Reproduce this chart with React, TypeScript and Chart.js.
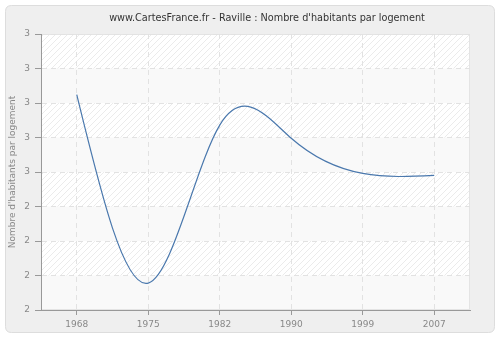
import React, { useEffect, useRef } from "react";
import { Chart, registerables } from "chart.js";

Chart.register(...registerables);

const chartTitle = "www.CartesFrance.fr - Raville : Nombre d'habitants par logement";
const yAxisTitle = "Nombre d'habitants par logement";
const years = ["1968", "1975", "1982", "1990", "1999", "2007"];
const habitantsParLogement = [2.612, 2.339, 2.568, 2.549, 2.498, 2.495];
const yMin = 2.3;
const yMax = 2.7;
const yStep = 0.05;
const yTickLabels = ["3", "3", "3", "3", "3", "2", "2", "2", "2"]; // top to bottom

function makeHatch(): CanvasPattern | string {
  const c = document.createElement("canvas");
  c.width = 6;
  c.height = 6;
  const g = c.getContext("2d");
  if (!g) return "#ffffff";
  g.fillStyle = "#ffffff";
  g.fillRect(0, 0, 6, 6);
  g.strokeStyle = "#ebebeb";
  g.lineWidth = 1;
  g.beginPath();
  g.moveTo(-1, 7);
  g.lineTo(7, -1);
  g.moveTo(-1, 1);
  g.lineTo(1, -1);
  g.moveTo(5, 7);
  g.lineTo(7, 5);
  g.stroke();
  const p = g.createPattern(c, "repeat");
  return p || "#ffffff";
}

const backgroundPlugin = {
  id: "bgPanel",
  beforeDraw(chart: any) {
    const ctx = chart.ctx as CanvasRenderingContext2D;
    const { left, right, top, bottom } = chart.chartArea;
    ctx.save();
    ctx.fillStyle = "#ffffff";
    ctx.fillRect(0, 0, chart.width, chart.height);
    const x0 = 5.5, y0 = 5.5, x1 = 494.5, y1 = 332.5, r = 6;
    ctx.beginPath();
    ctx.moveTo(x0 + r, y0);
    ctx.lineTo(x1 - r, y0);
    ctx.quadraticCurveTo(x1, y0, x1, y0 + r);
    ctx.lineTo(x1, y1 - r);
    ctx.quadraticCurveTo(x1, y1, x1 - r, y1);
    ctx.lineTo(x0 + r, y1);
    ctx.quadraticCurveTo(x0, y1, x0, y1 - r);
    ctx.lineTo(x0, y0 + r);
    ctx.quadraticCurveTo(x0, y0, x0 + r, y0);
    ctx.closePath();
    ctx.fillStyle = "#efefef";
    ctx.fill();
    ctx.strokeStyle = "#dddddd";
    ctx.lineWidth = 1;
    ctx.stroke();
    ctx.fillStyle = makeHatch();
    ctx.fillRect(left, top, right - left, bottom - top);
    const ys = chart.scales.y;
    const ticks = ys.ticks;
    for (let i = 0; i < ticks.length - 1; i++) {
      const a = ys.getPixelForValue(ticks[i].value);
      const b = ys.getPixelForValue(ticks[i + 1].value);
      const bandFromTop = ticks.length - 2 - i;
      if (bandFromTop % 2 === 1) {
        ctx.fillStyle = "#f9f9f9";
        ctx.fillRect(left, Math.min(a, b), right - left, Math.abs(a - b));
      }
    }
    ctx.strokeStyle = "#e4e4e4";
    ctx.strokeRect(left + 0.5, top + 0.5, right - left - 1, bottom - top - 1);
    ctx.fillStyle = "#333333";
    ctx.font = "9.7px 'DejaVu Sans'";
    ctx.textAlign = "center";
    ctx.textBaseline = "middle";
    ctx.fillText(chartTitle, 267, 18);
    ctx.restore();
  },
};

// natural cubic spline through the line's pixel points (uniform x spacing)
const naturalSplinePlugin = {
  id: "naturalSpline",
  beforeDatasetsDraw(chart: any) {
    const meta = chart.getDatasetMeta(0);
    if (!meta || !meta.dataset) return;
    meta.dataset.updateControlPoints(chart.chartArea, "x");
    const pts = meta.data;
    const n = pts.length;
    if (n < 3) return;
    const y = pts.map((p: any) => p.y);
    // solve for second derivatives with natural end conditions (unit step)
    const M = new Array(n).fill(0);
    const m = n - 2;
    const c = new Array(m).fill(0);
    const d = new Array(m).fill(0);
    for (let k = 0; k < m; k++) {
      const i = k + 1;
      const rhs = 6 * (y[i + 1] - 2 * y[i] + y[i - 1]);
      const denom = 4 - (k > 0 ? c[k - 1] : 0);
      c[k] = 1 / denom;
      d[k] = (rhs - (k > 0 ? d[k - 1] : 0)) / denom;
    }
    for (let k = m - 1; k >= 0; k--) {
      M[k + 1] = d[k] - (k < m - 1 ? c[k] * M[k + 2] : 0);
    }
    for (let i = 0; i < n - 1; i++) {
      const p0 = pts[i];
      const p1 = pts[i + 1];
      const dx = p1.x - p0.x;
      const dy = y[i + 1] - y[i];
      const d0 = dy - (2 * M[i] + M[i + 1]) / 6;
      const d1 = dy + (M[i] + 2 * M[i + 1]) / 6;
      p0.cp2x = p0.x + dx / 3;
      p0.cp2y = p0.y + d0 / 3;
      p1.cp1x = p1.x - dx / 3;
      p1.cp1y = p1.y - d1 / 3;
    }
  },
};

export default function App() {
  const ref = useRef<HTMLCanvasElement | null>(null);
  useEffect(() => {
    document.body.style.margin = "0";
    if (!ref.current) return;
    const chart = new Chart(ref.current, {
      type: "line",
      data: {
        labels: years,
        datasets: [
          {
            data: habitantsParLogement,
            borderColor: "#4a78ad",
            borderWidth: 1.2,
            pointRadius: 0,
            fill: false,
            tension: 0.4,
          },
        ],
      },
      options: {
        responsive: false,
        animation: false,
        devicePixelRatio: 1,
        layout: { padding: { left: 0, right: 30, top: 34, bottom: 0 } },
        plugins: {
          legend: { display: false },
          tooltip: { enabled: false },
          title: { display: false },
        },
        scales: {
          x: {
            type: "category",
            offset: true,
            afterFit: (s: any) => {
              s.height = 30;
            },
            grid: {
              offset: false,
              color: "#e2e2e2",
              tickColor: "#999999",
              tickLength: 5,
              tickBorderDash: [],
            },
            border: { color: "#999999", width: 1, dash: [5, 4] },
            ticks: {
              color: "#888888",
              font: { family: "DejaVu Sans", size: 9 },
              padding: 4,
              maxRotation: 0,
            },
          },
          y: {
            min: yMin,
            max: yMax,
            afterFit: (s: any) => {
              s.width = 41;
            },
            afterBuildTicks: (s: any) => {
              const t = [];
              for (let i = 0; i < yTickLabels.length; i++) {
                t.push({ value: yMin + i * yStep });
              }
              s.ticks = t;
            },
            grid: {
              color: "#e2e2e2",
              tickColor: "#999999",
              tickLength: 6,
              tickBorderDash: [],
            },
            border: { color: "#999999", width: 1, dash: [5, 4] },
            ticks: {
              color: "#888888",
              font: { family: "DejaVu Sans", size: 9 },
              padding: 5,
              callback: (_v: any, i: number) => yTickLabels[yTickLabels.length - 1 - i],
            },
            title: {
              display: true,
              text: yAxisTitle,
              color: "#888888",
              font: { family: "DejaVu Sans", size: 9 },
              padding: { top: 7, bottom: 0 },
            },
          },
        },
      },
      plugins: [backgroundPlugin, naturalSplinePlugin],
    } as any);
    return () => chart.destroy();
  }, []);
  return (
    <div style={{ width: 500, height: 340 }}>
      <canvas ref={ref} width={500} height={340} style={{ display: "block" }} />
    </div>
  );
}
